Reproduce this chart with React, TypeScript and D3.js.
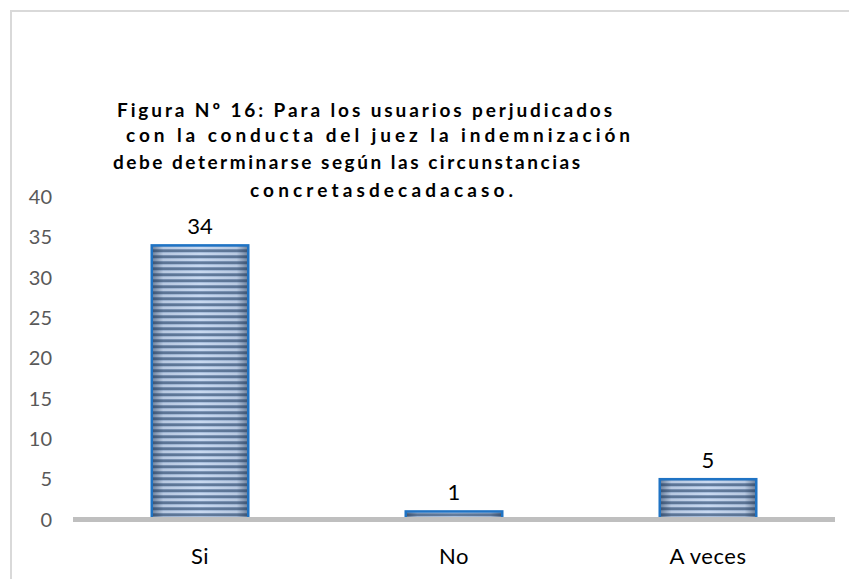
import React from "react";
import * as d3 from "d3";

const categories = ["Si", "No", "A veces"];
const values = [34, 1, 5];
const yTicks = [0, 5, 10, 15, 20, 25, 30, 35, 40];
const titleLines = [
  "Figura Nº 16: Para los usuarios perjudicados",
  "con la conducta del juez la indemnización",
  "debe determinarse según las circunstancias",
  "concretasdecadacaso.",
];

const W = 849;
const H = 579;
const font = "Lato, 'Open Sans', sans-serif";

export default function App() {
  const x = d3.scaleBand<string>().domain(categories).range([73, 835]).paddingInner(0.62).paddingOuter(0.31);
  const y = d3.scaleLinear().domain([0, 40]).range([519.5, 197]);
  const titleGeom = [
    { x: 117, y: 117, w: 495 },
    { x: 126, y: 142, w: 504 },
    { x: 113, y: 169, w: 467 },
    { x: 250, y: 197, w: 263 },
  ];
  return (
    <svg width={W} height={H} style={{ position: "absolute", left: 0, top: 0, background: "#fff" }}>
      <defs>
        <pattern id="stripes" width="8" height="6" patternUnits="userSpaceOnUse">
          <rect width="8" height="6" fill="#c9d9f0" />
          <rect y="0" width="8" height="1" fill="#a9bfdd" />
          <rect y="3" width="8" height="3" fill="#627b9c" />
          <rect y="3" width="8" height="1" fill="#7f97b8" />
        </pattern>
        <linearGradient id="shade" x1="0" x2="1" y1="0" y2="0">
          <stop offset="0" stopColor="#1d3350" stopOpacity="0.55" />
          <stop offset="0.12" stopColor="#1d3350" stopOpacity="0.1" />
          <stop offset="0.5" stopColor="#1d3350" stopOpacity="0" />
          <stop offset="0.88" stopColor="#1d3350" stopOpacity="0.1" />
          <stop offset="1" stopColor="#1d3350" stopOpacity="0.55" />
        </linearGradient>
      </defs>
      <rect x={11} y={11} width={W} height={H} fill="none" stroke="#d9d9d9" strokeWidth={2} />
      {titleLines.map((t, i) => (
        <text
          key={i}
          x={titleGeom[i].x}
          y={titleGeom[i].y}
          textLength={titleGeom[i].w}
          lengthAdjust="spacing"
          fontFamily={font}
          fontWeight="bold"
          fontSize={19}
          fill="#000"
        >
          {t}
        </text>
      ))}
      {yTicks.map((t) => (
        <text key={t} x={52} y={y(t)} dy="0.35em" textAnchor="end" fontFamily={font} fontSize={20} fill="#595959">
          {t}
        </text>
      ))}
      {categories.map((c, i) => {
        const bx = x(c)!;
        const bw = x.bandwidth();
        const top = y(values[i]);
        const h = y(0) - top;
        return (
          <g key={c}>
            <rect x={bx} y={top} width={bw} height={h} fill="url(#stripes)" />
            <rect x={bx} y={top} width={bw} height={h} fill="url(#shade)" />
            <rect x={bx} y={top} width={bw} height={h} fill="none" stroke="#1f73c4" strokeWidth={2.5} />
            <text x={bx + bw / 2} y={top - 11} textAnchor="middle" fontFamily={font} fontSize={22} fill="#000">
              {values[i]}
            </text>
            <text x={bx + bw / 2} y={564} textAnchor="middle" fontFamily={font} fontSize={22} letterSpacing={0.5} fill="#000">
              {c}
            </text>
          </g>
        );
      })}
      <line x1={73} x2={835} y1={y(0)} y2={y(0)} stroke="#bfbfbf" strokeWidth={5} />
    </svg>
  );
}
